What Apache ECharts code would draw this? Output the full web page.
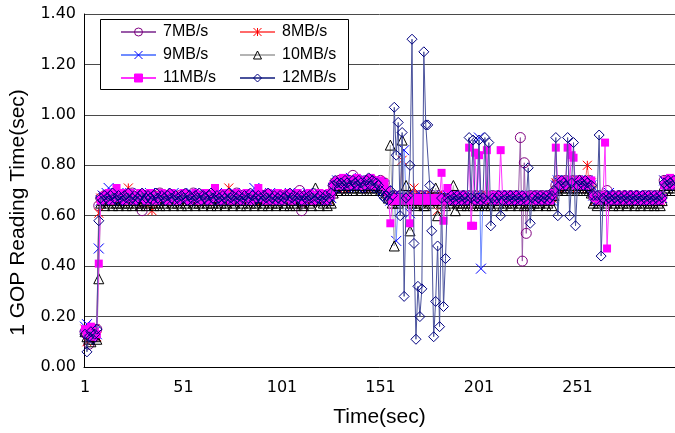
<!DOCTYPE html>
<html><head><meta charset="utf-8">
<script src="https://cdn.jsdelivr.net/npm/echarts@6/dist/echarts.min.js"></script>
<style>html,body{margin:0;padding:0;background:#fff}#c{width:675px;height:433px}</style>
</head><body><div id="c"></div>
<script>
// Time (sec) categories 1..300
const times = [];
for (let t = 1; t <= 300; t++) times.push(String(t));

const seriesNames = ['7MB/s','8MB/s','9MB/s','10MB/s','11MB/s','12MB/s'];

const s7 = [
.14,.13,.09,.12,.13,.12,.15,.64,.67,.66,
.68,.67,.66,.68,.67,.69,.66,.67,.68,.66,
.67,.68,.66,.67,.69,.67,.66,.68,.67,.62,
.66,.68,.67,.66,.67,.68,.66,.67,.69,.67,
.66,.68,.67,.67,.66,.68,.67,.66,.68,.67,
.67,.66,.68,.67,.66,.69,.67,.68,.66,.67,
.68,.66,.67,.68,.67,.66,.68,.67,.66,.68,
.67,.68,.66,.67,.68,.66,.67,.69,.67,.66,
.68,.67,.66,.68,.67,.66,.68,.67,.69,.66,
.67,.68,.66,.67,.68,.67,.66,.68,.67,.66,
.68,.67,.66,.67,.68,.66,.67,.68,.66,.70,
.62,.67,.68,.66,.67,.68,.67,.66,.68,.67,
.66,.68,.67,.66,.67,.69,.72,.73,.72,.74,
.72,.71,.73,.72,.74,.73,.76,.72,.73,.74,
.72,.73,.71,.74,.72,.73,.74,.72,.73,.72,
.74,.71,.73,.70,.68,.67,.66,.68,.67,.66,
.68,.67,.66,.68,.67,.66,.67,.68,.66,.67,
.68,.66,.67,.68,.66,.67,.68,.67,.66,.68,
.67,.66,.68,.67,.66,.67,.68,.66,.67,.68,
.66,.67,.68,.67,.66,.68,.67,.66,.68,.67,
.66,.68,.67,.66,.68,.67,.66,.68,.67,.66,
.68,.67,.66,.68,.67,.66,.68,.67,.66,.68,
.67,.91,.42,.81,.53,.67,.68,.66,.67,.68,
.66,.67,.68,.66,.67,.68,.66,.67,.69,.72,
.74,.71,.73,.72,.74,.72,.73,.71,.74,.72,
.73,.74,.72,.71,.73,.72,.74,.72,.68,.67,
.66,.68,.67,.66,.68,.70,.67,.66,.68,.67,
.66,.68,.67,.66,.68,.67,.66,.68,.67,.66,
.68,.67,.66,.67,.68,.66,.67,.68,.66,.67,
.68,.66,.67,.68,.74,.72,.73,.74,.72,.73];

const s8 = [
.15,.10,.12,.14,.13,.15,.12,.61,.67,.68,
.66,.67,.68,.66,.67,.68,.67,.66,.68,.67,
.66,.68,.71,.67,.66,.68,.67,.66,.68,.67,
.66,.67,.68,.66,.62,.67,.68,.66,.67,.68,
.67,.66,.68,.67,.66,.68,.67,.66,.67,.68,
.66,.67,.68,.66,.67,.68,.67,.66,.68,.67,
.66,.68,.67,.66,.67,.68,.66,.67,.68,.66,
.67,.68,.66,.71,.67,.66,.68,.67,.66,.68,
.67,.66,.67,.68,.66,.67,.68,.66,.67,.68,
.66,.67,.68,.67,.66,.68,.67,.66,.68,.67,
.66,.68,.67,.66,.68,.67,.66,.67,.68,.66,
.67,.68,.66,.67,.68,.66,.67,.68,.66,.67,
.68,.66,.67,.68,.66,.67,.71,.73,.72,.73,
.74,.72,.71,.73,.72,.74,.73,.72,.74,.72,
.73,.74,.72,.71,.73,.74,.72,.73,.72,.74,
.72,.73,.71,.69,.68,.66,.67,.68,.66,.67,
.68,.82,.66,.67,.68,.66,.67,.71,.67,.66,
.68,.67,.66,.68,.67,.66,.68,.67,.66,.62,
.67,.68,.66,.67,.68,.66,.67,.68,.66,.67,
.68,.66,.67,.68,.66,.67,.68,.66,.67,.68,
.66,.67,.68,.66,.67,.68,.66,.67,.68,.66,
.67,.68,.66,.67,.68,.66,.67,.68,.66,.67,
.68,.66,.67,.68,.66,.67,.68,.66,.67,.68,
.66,.67,.68,.66,.67,.68,.66,.67,.68,.73,
.72,.74,.71,.73,.72,.74,.73,.72,.71,.73,
.74,.72,.73,.71,.74,.80,.72,.73,.68,.66,
.67,.68,.66,.67,.68,.66,.67,.68,.66,.67,
.68,.66,.67,.68,.66,.67,.68,.66,.67,.68,
.66,.67,.68,.66,.67,.68,.66,.67,.68,.66,
.67,.68,.66,.67,.74,.73,.72,.74,.73,.72];

const s9 = [
.16,.17,.13,.12,.15,.14,.13,.47,.66,.68,
.67,.69,.71,.67,.66,.68,.67,.69,.66,.67,
.68,.66,.67,.69,.67,.66,.68,.67,.66,.68,
.67,.66,.68,.69,.67,.66,.68,.67,.66,.67,
.68,.66,.67,.68,.66,.69,.67,.66,.68,.67,
.66,.68,.67,.66,.69,.67,.68,.66,.67,.68,
.67,.66,.68,.67,.66,.68,.67,.69,.66,.67,
.68,.66,.67,.68,.66,.67,.69,.68,.66,.67,
.68,.67,.66,.68,.67,.66,.71,.67,.68,.66,
.67,.68,.66,.67,.69,.66,.68,.67,.66,.68,
.67,.66,.68,.67,.69,.66,.67,.68,.66,.67,
.68,.66,.67,.69,.66,.68,.67,.66,.68,.67,
.66,.68,.67,.66,.68,.67,.71,.72,.74,.72,
.73,.71,.74,.72,.73,.75,.72,.73,.71,.74,
.72,.73,.72,.74,.71,.73,.72,.74,.73,.72,
.73,.71,.72,.70,.68,.66,.67,.68,.50,.67,
.68,.66,.86,.67,.68,.61,.67,.66,.68,.67,
.66,.68,.67,.66,.68,.67,.66,.68,.67,.66,
.68,.67,.66,.67,.68,.66,.67,.68,.66,.67,
.68,.66,.67,.68,.66,.67,.68,.66,.67,.68,
.91,.39,.67,.68,.66,.67,.68,.66,.67,.68,
.66,.67,.68,.66,.67,.68,.66,.67,.68,.66,
.67,.68,.66,.67,.68,.66,.67,.68,.66,.67,
.68,.66,.67,.68,.66,.67,.68,.66,.67,.72,
.74,.73,.71,.72,.74,.73,.72,.74,.71,.73,
.72,.74,.73,.71,.72,.74,.73,.72,.68,.67,
.66,.68,.67,.66,.68,.67,.69,.66,.68,.67,
.66,.68,.67,.66,.68,.67,.66,.68,.67,.66,
.68,.67,.66,.68,.67,.66,.68,.67,.66,.68,
.67,.66,.68,.67,.74,.73,.72,.74,.73,.72];

const s10 = [
.14,.12,.11,.10,.13,.12,.11,.35,.65,.66,
.64,.66,.65,.67,.64,.66,.65,.64,.66,.65,
.67,.64,.65,.66,.64,.67,.65,.66,.64,.65,
.66,.64,.67,.65,.66,.64,.65,.67,.64,.66,
.65,.64,.66,.67,.65,.64,.66,.65,.67,.64,
.66,.65,.64,.67,.66,.65,.64,.66,.65,.67,
.64,.66,.65,.67,.64,.65,.66,.64,.67,.65,
.66,.64,.65,.67,.66,.64,.65,.66,.67,.64,
.65,.66,.64,.67,.65,.66,.64,.65,.67,.66,
.64,.65,.66,.64,.67,.65,.66,.64,.65,.67,
.66,.64,.65,.67,.64,.66,.65,.64,.67,.66,
.65,.64,.66,.67,.65,.64,.66,.71,.66,.64,
.66,.65,.67,.64,.66,.65,.69,.71,.70,.72,
.70,.71,.73,.70,.72,.71,.70,.73,.71,.72,
.70,.71,.73,.70,.72,.71,.70,.72,.71,.73,
.70,.71,.72,.69,.67,.88,.65,.48,.66,.65,
.67,.90,.66,.72,.66,.54,.65,.66,.64,.66,
.65,.67,.64,.64,.66,.65,.67,.66,.71,.60,
.66,.65,.67,.64,.66,.65,.67,.72,.62,.65,
.66,.64,.65,.67,.64,.66,.65,.64,.66,.65,
.64,.67,.65,.64,.66,.65,.64,.66,.67,.64,
.65,.66,.64,.67,.65,.66,.64,.65,.67,.66,
.64,.65,.67,.64,.66,.65,.64,.67,.65,.66,
.64,.65,.67,.66,.64,.65,.66,.64,.68,.71,
.70,.72,.71,.73,.70,.71,.72,.70,.71,.73,
.70,.72,.71,.70,.72,.71,.70,.69,.65,.66,
.64,.65,.67,.66,.64,.65,.66,.67,.64,.65,
.66,.64,.67,.65,.66,.64,.65,.66,.67,.64,
.65,.66,.64,.67,.65,.66,.64,.65,.66,.64,
.66,.65,.64,.66,.72,.70,.71,.72,.70,.71];

const s11 = [
.15,.13,.14,.16,.12,.14,.13,.41,.66,.67,
.68,.67,.69,.66,.68,.67,.71,.68,.67,.69,
.66,.68,.67,.69,.68,.66,.67,.68,.69,.67,
.68,.66,.67,.69,.68,.67,.66,.68,.67,.69,
.67,.68,.66,.67,.69,.68,.67,.66,.68,.67,
.69,.67,.68,.66,.67,.68,.69,.67,.66,.68,
.67,.69,.68,.66,.67,.68,.71,.67,.68,.66,
.67,.69,.68,.67,.66,.68,.67,.69,.68,.66,
.67,.68,.69,.67,.66,.68,.67,.68,.71,.67,
.68,.67,.66,.69,.67,.68,.66,.67,.69,.68,
.66,.67,.68,.69,.67,.66,.68,.67,.69,.68,
.67,.66,.68,.67,.69,.68,.66,.67,.68,.69,
.67,.68,.66,.67,.69,.68,.72,.73,.74,.72,
.73,.75,.72,.74,.73,.72,.74,.73,.75,.72,
.74,.73,.72,.74,.73,.75,.72,.74,.73,.72,
.74,.72,.73,.70,.68,.57,.66,.67,.66,.67,
.66,.67,.66,.67,.66,.57,.67,.66,.67,.66,
.67,.66,.67,.66,.67,.66,.67,.66,.67,.66,
.67,.77,.58,.66,.71,.67,.68,.66,.67,.68,
.66,.67,.68,.66,.67,.87,.56,.56,.85,.66,
.84,.67,.66,.67,.86,.67,.68,.66,.67,.68,
.66,.86,.67,.68,.66,.67,.68,.66,.67,.68,
.67,.66,.68,.67,.66,.68,.67,.66,.68,.67,
.66,.68,.67,.66,.68,.67,.66,.68,.69,.87,
.72,.73,.74,.72,.73,.87,.74,.84,.83,.72,
.73,.74,.72,.73,.74,.72,.73,.74,.68,.67,
.68,.66,.67,.68,.89,.47,.66,.67,.68,.66,
.67,.68,.66,.67,.68,.67,.66,.68,.67,.68,
.66,.67,.68,.66,.67,.68,.66,.67,.68,.66,
.67,.68,.66,.67,.72,.74,.73,.75,.72,.74];

const s12 = [
.13,.06,.12,.14,.11,.13,.15,.58,.67,.66,
.68,.67,.66,.68,.69,.67,.66,.68,.67,.66,
.68,.67,.69,.66,.67,.68,.66,.67,.68,.69,
.66,.67,.68,.67,.66,.68,.69,.67,.66,.68,
.67,.66,.68,.69,.67,.66,.68,.67,.66,.68,
.67,.69,.66,.68,.67,.66,.68,.67,.69,.66,
.68,.67,.66,.68,.69,.67,.66,.68,.67,.66,
.68,.67,.66,.69,.67,.68,.66,.67,.68,.66,
.67,.68,.66,.67,.69,.68,.66,.67,.68,.67,
.66,.68,.67,.69,.66,.67,.68,.66,.67,.68,
.66,.67,.68,.66,.69,.67,.68,.66,.67,.68,
.66,.68,.67,.66,.68,.67,.69,.66,.67,.68,
.66,.67,.68,.66,.67,.69,.72,.74,.73,.71,
.73,.72,.74,.73,.71,.72,.74,.73,.72,.74,
.73,.71,.72,.74,.75,.72,.74,.71,.73,.72,
.70,.68,.67,.68,.66,.70,.68,1.03,.84,.97,
.60,.93,.28,.67,.68,.80,1.30,.49,.11,.32,
.20,.31,1.25,.96,.96,.72,.54,.12,.26,.48,
.16,.67,.24,.43,.67,.66,.68,.67,.66,.68,
.67,.66,.68,.67,.66,.91,.67,.90,.66,.67,
.90,.66,.67,.91,.66,.89,.56,.67,.66,.67,
.68,.60,.66,.68,.67,.66,.68,.67,.66,.68,
.67,.66,.68,.67,.66,.79,.57,.67,.68,.66,
.67,.68,.66,.67,.68,.66,.67,.68,.70,.91,
.60,.72,.74,.73,.72,.91,.60,.73,.89,.56,
.72,.74,.73,.72,.74,.73,.71,.72,.68,.66,
.68,.92,.44,.67,.66,.68,.67,.66,.68,.67,
.66,.68,.67,.66,.68,.67,.66,.68,.67,.66,
.68,.67,.66,.68,.67,.66,.68,.67,.66,.68,
.67,.66,.68,.67,.73,.72,.74,.73,.72,.74];

const seriesData = [s7, s8, s9, s10, s11, s12];

const FONT = '"Liberation Sans", Arial, sans-serif';
const TICKFONT = '"DejaVu Sans", sans-serif';
const styles = [
  { symbol: 'circle', size: 10, fill: 'rgba(0,0,0,0)', stroke: '#800080', line: '#9a5aa8' },
  { symbol: 'path://M0,0L10,10M10,0L0,10M5,0L5,10', size: 9, fill: 'rgba(0,0,0,0)', stroke: '#ff0000', line: '#ff6a6a' },
  { symbol: 'path://M0,0L10,10M10,0L0,10', size: 10, fill: 'rgba(0,0,0,0)', stroke: '#0000ff', line: '#6f8cff' },
  { symbol: 'triangle', size: 10, fill: 'rgba(0,0,0,0)', stroke: '#000000', line: '#b4b4b4' },
  { symbol: 'rect', size: 8, fill: '#ff00ff', stroke: '#ff00ff', line: '#ff33ff', bw: 0 },
  { symbol: 'diamond', size: 10, fill: 'rgba(0,0,0,0)', stroke: '#000080', line: '#4a529c' }
];

const series = seriesNames.map((name, i) => ({
  type: 'line',
  name: name,
  data: seriesData[i],
  symbol: styles[i].symbol,
  symbolSize: styles[i].size,
  showAllSymbol: true,
  z: 2 + i,
  silent: true,
  animation: false,
  lineStyle: { color: styles[i].line, width: 1 },
  itemStyle: { color: styles[i].fill, borderColor: styles[i].stroke, borderWidth: styles[i].bw === 0 ? 0 : 1 },
  emphasis: { disabled: true }
}));

const legendBase = {
  orient: 'vertical', top: 19, itemWidth: 35, itemHeight: 10, itemGap: 7,
  selectedMode: false, z: 21, padding: 5,
  itemStyle: { borderWidth: 1 },
  textStyle: { fontSize: 16, lineHeight: 16, fontFamily: FONT, color: '#000', padding: [0, 0, 0, 2] }
};

const chart = echarts.init(document.getElementById('c'), null, { renderer: 'canvas' });
chart.setOption({
  animation: false,
  backgroundColor: '#fff',
  grid: { left: 83, right: -4, top: 14, bottom: 66 },
  graphic: [{
    type: 'rect', z: 20,
    shape: { x: 100.5, y: 19.5, width: 248, height: 70 },
    style: { fill: '#fff', stroke: '#000', lineWidth: 1 }
  }],
  legend: [
    Object.assign({}, legendBase, { left: 115, data: ['7MB/s', '9MB/s', '11MB/s'] }),
    Object.assign({}, legendBase, { left: 234, data: ['8MB/s', '10MB/s', '12MB/s'] })
  ],
  xAxis: {
    type: 'category', data: times, boundaryGap: true,
    name: 'Time(sec)', nameLocation: 'middle', nameGap: 40,
    nameTextStyle: { fontSize: 21, fontFamily: FONT, color: '#000' },
    axisLine: { lineStyle: { color: '#000', width: 1 } },
    axisTick: { interval: 9, inside: true, length: 5, alignWithLabel: true, lineStyle: { color: '#000' } },
    axisLabel: { interval: 49, margin: 13, fontSize: 16, fontFamily: TICKFONT, color: '#000' },
    splitLine: { show: false }
  },
  yAxis: {
    type: 'value', min: 0, max: 1.4, interval: 0.2,
    name: '1 GOP Reading Time(sec)', nameLocation: 'middle', nameGap: 55, nameRotate: 90,
    nameTextStyle: { fontSize: 21, fontFamily: FONT, color: '#000', padding: [0, 44, 0, 0] },
    axisLine: { show: true, lineStyle: { color: '#000', width: 1 } },
    axisTick: { show: false },
    axisLabel: { margin: 8, fontSize: 16, fontFamily: TICKFONT, color: '#000', formatter: v => v.toFixed(2) },
    splitLine: { show: true, lineStyle: { color: '#4a4a4a', width: 1 } }
  },
  series: series
});
</script></body></html>
